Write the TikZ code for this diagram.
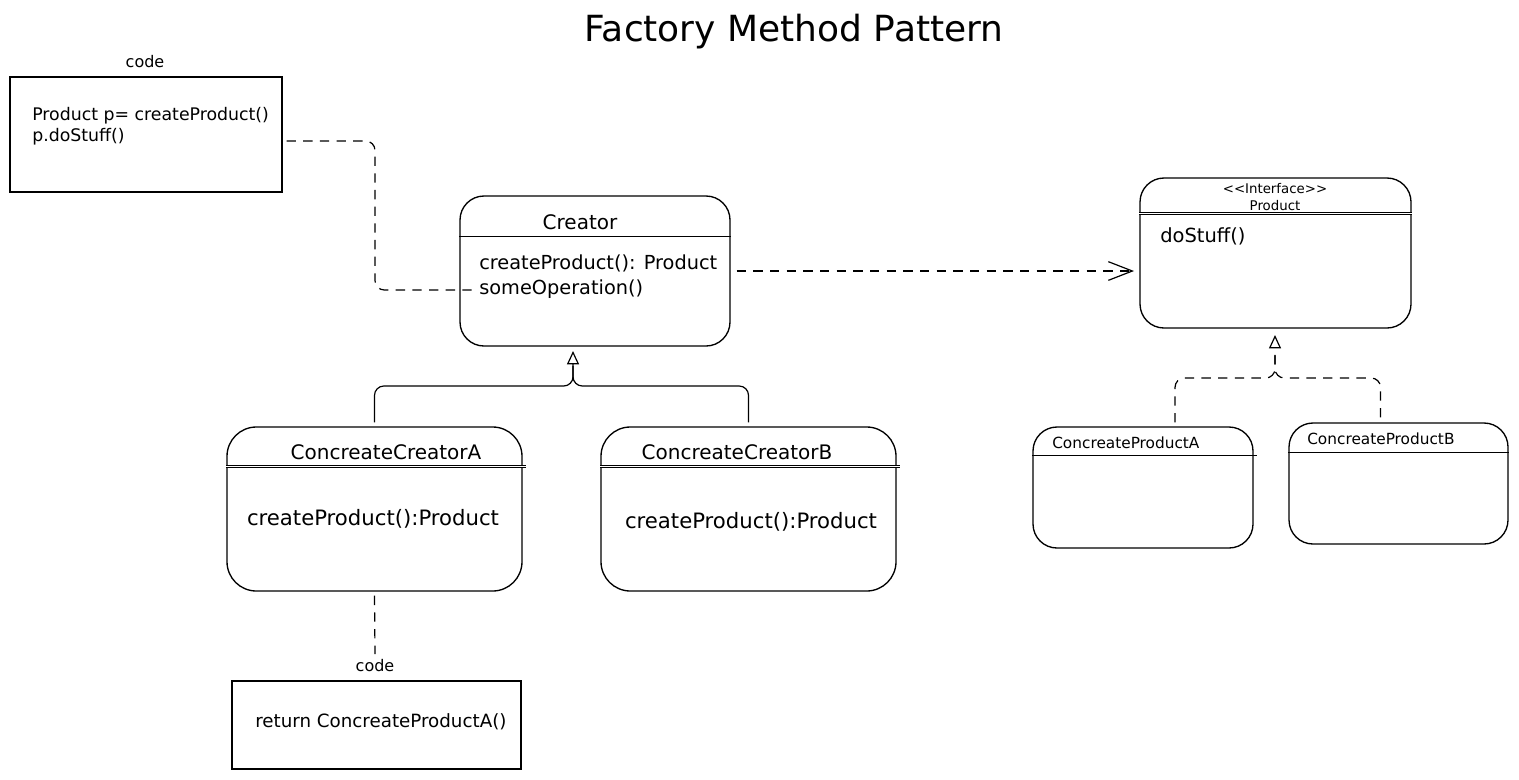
\documentclass[tikz,border=0pt]{standalone}
\usepackage{fontspec}
\setmainfont{DejaVu Sans}
\usetikzlibrary{arrows.meta,fit,calc}
\begin{document}
\begin{tikzpicture}[x=0.75pt,y=-0.75pt,
  rbox/.style={draw, line width=1pt, rounded corners=18pt, inner sep=0pt},
  cbox/.style={draw, line width=0.8pt, inner sep=0pt},
  txt/.style={inner sep=0pt, font=\fontsize{14.5}{18.75}\selectfont},
  sepline/.style={line width=0.9pt},
  dsepline/.style={line width=0.5pt, double, double distance=0.9pt},
  dline/.style={line width=0.9pt, dash pattern=on 7pt off 5.5pt},
  sline/.style={line width=0.9pt},
  inh/.style={-{Triangle[open,length=10pt,width=9pt]}},
  dep/.style={-{Straight Barb[length=18pt,width=14pt,line width=0.9pt]}}
]
\useasboundingbox (0,0) rectangle (1519,779);

% title
\node[inner sep=0pt, font=\fontsize{27}{32}\selectfont] (title) at (794,32) {Factory Method Pattern};

% code box 1
\node[inner sep=0pt, font=\fontsize{12}{14}\selectfont] (code1lbl) at (145,62) {code};
\node[cbox, fit={(10,77)(282,192)}] (code1) {};
\node[inner sep=0pt, anchor=west, align=left, font=\fontsize{13}{15.75}\selectfont] (code1txt) at (32,126) {Product p= createProduct()\\p.doStuff()};

% Creator
\node[rbox, fit={(460,196)(730,346)}] (creator) {};
\node[inner sep=0pt, font=\fontsize{15}{18}\selectfont] (creatortitle) at (580,222) {Creator};
\draw[sepline] ($(creator.north west)+(0,41)$) -- ($(creator.north east)+(0,41)$);
\node[txt, anchor=west, align=left] (creatorops) at (479,277) {createProduct(): Product\\someOperation()};

% Product interface
\node[rbox, fit={(1140,178)(1411,328)}] (product) {};
\node[inner sep=0pt, align=center, font=\fontsize{10}{12.75}\selectfont] (producttitle) at (1275,197.5) {<\kern0pt<Interface>\kern0pt>\\Product};
\draw[dsepline] ($(product.north west)+(0,36)$) -- ($(product.north east)+(0,36)$);
\node[inner sep=0pt, anchor=west, font=\fontsize{14.6}{17}\selectfont] (productops) at (1160,236) {doStuff()};

% Concrete creators
\node[rbox, rounded corners=22pt, fit={(227,427)(522,591)}] (ccA) {};
\node[inner sep=0pt, font=\fontsize{15}{18}\selectfont] (ccAtitle) at (386,452) {ConcreateCreatorA};
\draw[dsepline] ($(ccA.north west)+(0,40)$) -- ($(ccA.north east)+(3,40)$);
\node[inner sep=0pt, font=\fontsize{15.9}{19}\selectfont] (ccAops) at (373,519) {createProduct():Product};

\node[rbox, rounded corners=22pt, fit={(601,427)(896,591)}] (ccB) {};
\node[inner sep=0pt, font=\fontsize{15}{18}\selectfont] (ccBtitle) at (737,452) {ConcreateCreatorB};
\draw[dsepline] ($(ccB.north west)+(0,40)$) -- ($(ccB.north east)+(3,40)$);
\node[inner sep=0pt, font=\fontsize{15.9}{19}\selectfont] (ccBops) at (751,522) {createProduct():Product};

% Concrete products
\node[rbox, fit={(1033,427)(1253,548)}] (pA) {};
\node[inner sep=0pt, anchor=west, font=\fontsize{11.5}{14}\selectfont] (pAtitle) at (1052,443) {ConcreateProductA};
\draw[sepline] ($(pA.north west)+(0,29)$) -- ($(pA.north east)+(3,29)$);

\node[rbox, fit={(1289,423)(1508,544)}] (pB) {};
\node[inner sep=0pt, anchor=west, font=\fontsize{11.5}{14}\selectfont] (pBtitle) at (1307,439) {ConcreateProductB};
\draw[sepline] ($(pB.north west)+(0,30)$) -- ($(pB.north east)+(0,30)$);

% code box 2
\node[inner sep=0pt, font=\fontsize{12}{14}\selectfont] (code2lbl) at (375,666) {code};
\node[cbox, fit={(232,681)(521,769)}] (code2) {};
\node[inner sep=0pt, anchor=west, font=\fontsize{13.7}{17}\selectfont] (code2txt) at (255,722) {return ConcreateProductA()};

% connectors
\coordinate (j1) at (375,290);
\draw[dline, rounded corners=7pt] ([shift={(4,6.5)}]code1.east) -| (j1) -- ([shift={(13,19)}]creator.west);

\draw[dline, dep] ([xshift=4.5pt]creator.east) -- ([xshift=-4pt]creator.east -| product.west);

\coordinate (ctip) at (573,351);
\coordinate (cjoin) at (573,386);
\draw[sline, rounded corners=7pt, inh] ([yshift=3pt]ccA.north) |- (cjoin) -- (ctip);
\draw[sline, rounded corners=7pt] ([yshift=3pt]ccB.north) |- (cjoin) -- (573,366);

\coordinate (ptip) at (1275,335);
\coordinate (pjoin) at (1275,378);
\draw[dline, rounded corners=7pt, inh] ($(pA.north)+(32,-4)$) |- (pjoin) -- (ptip);
\draw[dline, rounded corners=7pt] ($(pB.north)+(-18,-5)$) |- (pjoin) -- (1275,350);

\draw[dline] ([yshift=-3pt]ccA.south) -- ([yshift=4pt]code2lbl.north);
\end{tikzpicture}
\end{document}
